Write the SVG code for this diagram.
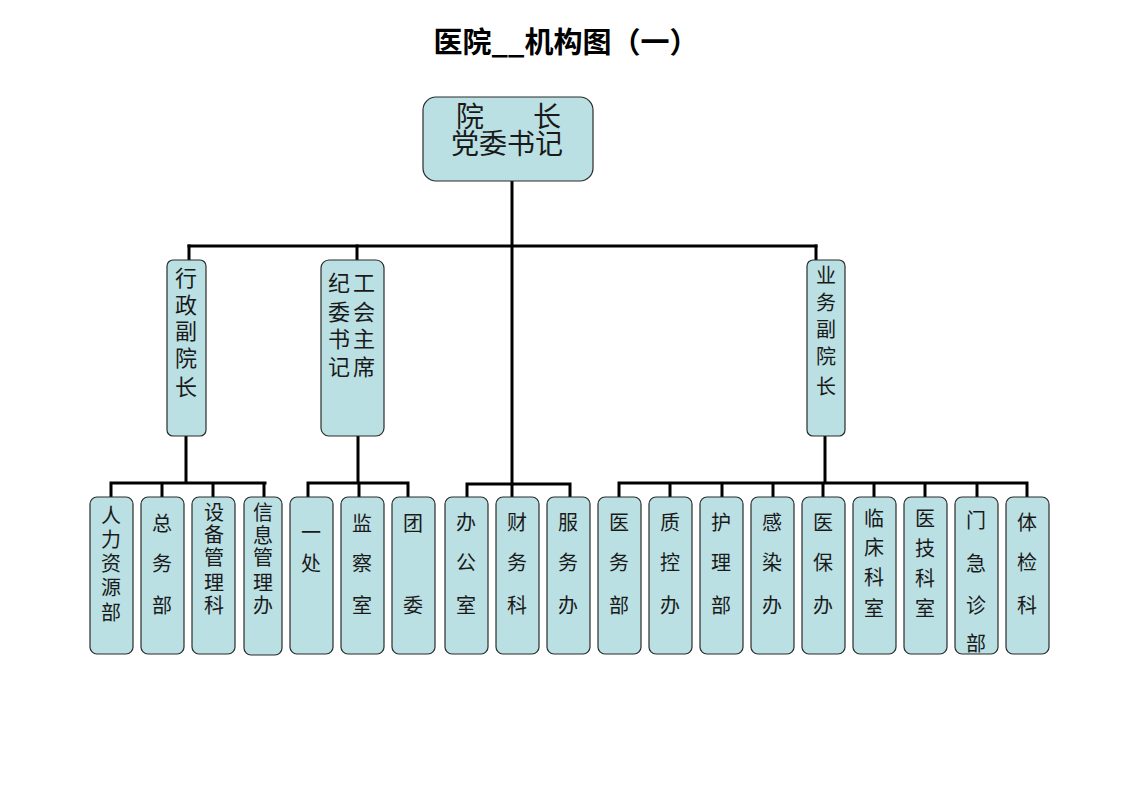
<svg xmlns="http://www.w3.org/2000/svg" width="1122" height="793" viewBox="0 0 1122 793">
<style>
.bg{fill:#ffffff}
.box{fill:#BBE0E3;stroke:#2b2b2b;stroke-width:1.2}
.ln{stroke:#000;stroke-width:3;fill:none;stroke-linecap:square}
.t{font-family:"Noto Sans CJK SC","Noto Sans CJK JP",sans-serif;fill:#1a1a1a;text-anchor:middle}
.s20{font-size:20px}
.s22{font-size:22px}
.s28{font-size:28px}
.title{font-family:"Noto Sans CJK SC",sans-serif;font-size:29px;font-weight:bold;fill:#000;text-anchor:middle}
</style>
<rect class="bg" x="0" y="0" width="1122" height="793"/>
<text class="title" x="566" y="53">医院__机构图（一）</text>

<g id="connectors">
  <path class="ln" d="M512 182 V484"/>
  <path class="ln" d="M189 246 H816"/>
  <path class="ln" d="M189 246 V260 M357 246 V260 M816 246 V260"/>
  <path class="ln" d="M186 437 V483 M111 483 H265 M111 483 V497 M162 483 V497 M213 483 V497 M264 483 V497"/>
  <path class="ln" d="M358 437 V483 M308 483 H408 M308 483 V497 M359 483 V497 M408 483 V497"/>
  <path class="ln" d="M467 484 H570 M467 484 V497 M512 484 V497 M570 484 V497"/>
  <path class="ln" d="M825 437 V483 M619 483 H1027 M619 483 V497 M670 483 V497 M722 483 V497 M773 483 V497 M823 483 V497 M874 483 V497 M925 483 V497 M977 483 V497 M1027 483 V497"/>
</g>

<g id="n-president">
  <rect class="box" x="423" y="97" width="170" height="84" rx="13"/>
  <text class="t s28" x="470" y="127">院</text>
  <text class="t s28" x="547" y="127">长</text>
  <text class="t s28" x="507" y="154">党委书记</text>
</g>

<g id="n-admin-vp">
  <rect class="box" x="167" y="260" width="39" height="176" rx="6"/>
  <text class="t s22"><tspan x="186" y="286">行</tspan><tspan x="186" y="313">政</tspan><tspan x="186" y="339">副</tspan><tspan x="186" y="366">院</tspan><tspan x="186" y="395">长</tspan></text>
</g>

<g id="n-union">
  <rect class="box" x="321" y="260" width="63" height="176" rx="8"/>
  <text class="t s22"><tspan x="339" y="291">纪</tspan><tspan x="339" y="320">委</tspan><tspan x="339" y="347">书</tspan><tspan x="339" y="375">记</tspan></text>
  <text class="t s22"><tspan x="364" y="291">工</tspan><tspan x="364" y="320">会</tspan><tspan x="364" y="347">主</tspan><tspan x="364" y="375">席</tspan></text>
</g>

<g id="n-biz-vp">
  <rect class="box" x="807" y="260" width="38" height="176" rx="6"/>
  <text class="t s20"><tspan x="826" y="283">业</tspan><tspan x="826" y="310">务</tspan><tspan x="826" y="337">副</tspan><tspan x="826" y="364">院</tspan><tspan x="826" y="394">长</tspan></text>
</g>

<g id="n-hr">
  <rect class="box" x="90" y="497" width="43" height="157" rx="7"/>
  <text class="t s20"><tspan x="111" y="523">人</tspan><tspan x="111" y="547">力</tspan><tspan x="111" y="571">资</tspan><tspan x="111" y="595">源</tspan><tspan x="111" y="620">部</tspan></text>
</g>
<g id="n-general">
  <rect class="box" x="141" y="497" width="43" height="157" rx="7"/>
  <text class="t s20"><tspan x="162" y="531">总</tspan><tspan x="162" y="571">务</tspan><tspan x="162" y="613">部</tspan></text>
</g>
<g id="n-equip">
  <rect class="box" x="192" y="497" width="43" height="157" rx="7"/>
  <text class="t s20"><tspan x="214" y="520">设</tspan><tspan x="214" y="542">备</tspan><tspan x="214" y="565">管</tspan><tspan x="214" y="590">理</tspan><tspan x="214" y="613">科</tspan></text>
</g>
<g id="n-info">
  <rect class="box" x="244" y="497" width="38" height="158" rx="7"/>
  <text class="t s20"><tspan x="263" y="520">信</tspan><tspan x="263" y="543">息</tspan><tspan x="263" y="565">管</tspan><tspan x="263" y="590">理</tspan><tspan x="263" y="613">办</tspan></text>
</g>
<g id="n-office1">
  <rect class="box" x="290" y="497" width="43" height="157" rx="7"/>
  <text class="t s20"><tspan x="311" y="540">一</tspan><tspan x="311" y="571">处</tspan></text>
</g>
<g id="n-supervise">
  <rect class="box" x="341" y="497" width="43" height="157" rx="7"/>
  <text class="t s20"><tspan x="362" y="531">监</tspan><tspan x="362" y="571">察</tspan><tspan x="362" y="613">室</tspan></text>
</g>
<g id="n-league">
  <rect class="box" x="392" y="497" width="43" height="157" rx="7"/>
  <text class="t s20"><tspan x="413" y="531">团</tspan><tspan x="413" y="613">委</tspan></text>
</g>
<g id="n-bangong">
  <rect class="box" x="445" y="497" width="43" height="157" rx="7"/>
  <text class="t s20"><tspan x="466" y="530">办</tspan><tspan x="466" y="570">公</tspan><tspan x="466" y="613">室</tspan></text>
</g>
<g id="n-finance">
  <rect class="box" x="496" y="497" width="43" height="157" rx="7"/>
  <text class="t s20"><tspan x="517" y="530">财</tspan><tspan x="517" y="570">务</tspan><tspan x="517" y="613">科</tspan></text>
</g>
<g id="n-service">
  <rect class="box" x="547" y="497" width="43" height="157" rx="7"/>
  <text class="t s20"><tspan x="568" y="530">服</tspan><tspan x="568" y="570">务</tspan><tspan x="568" y="613">办</tspan></text>
</g>
<g id="n-medical">
  <rect class="box" x="598" y="497" width="43" height="157" rx="7"/>
  <text class="t s20"><tspan x="619" y="530">医</tspan><tspan x="619" y="570">务</tspan><tspan x="619" y="613">部</tspan></text>
</g>
<g id="n-quality">
  <rect class="box" x="649" y="497" width="43" height="157" rx="7"/>
  <text class="t s20"><tspan x="670" y="530">质</tspan><tspan x="670" y="570">控</tspan><tspan x="670" y="613">办</tspan></text>
</g>
<g id="n-nursing">
  <rect class="box" x="700" y="497" width="43" height="157" rx="7"/>
  <text class="t s20"><tspan x="721" y="530">护</tspan><tspan x="721" y="570">理</tspan><tspan x="721" y="613">部</tspan></text>
</g>
<g id="n-infection">
  <rect class="box" x="751" y="497" width="43" height="157" rx="7"/>
  <text class="t s20"><tspan x="772" y="530">感</tspan><tspan x="772" y="570">染</tspan><tspan x="772" y="613">办</tspan></text>
</g>
<g id="n-insurance">
  <rect class="box" x="802" y="497" width="43" height="157" rx="7"/>
  <text class="t s20"><tspan x="823" y="530">医</tspan><tspan x="823" y="570">保</tspan><tspan x="823" y="613">办</tspan></text>
</g>
<g id="n-clinical">
  <rect class="box" x="853" y="497" width="43" height="157" rx="7"/>
  <text class="t s20"><tspan x="874" y="526">临</tspan><tspan x="874" y="555">床</tspan><tspan x="874" y="585">科</tspan><tspan x="874" y="616">室</tspan></text>
</g>
<g id="n-medtech">
  <rect class="box" x="904" y="497" width="43" height="157" rx="7"/>
  <text class="t s20"><tspan x="925" y="526">医</tspan><tspan x="925" y="556">技</tspan><tspan x="925" y="586">科</tspan><tspan x="925" y="616">室</tspan></text>
</g>
<g id="n-outpatient">
  <rect class="box" x="955" y="497" width="43" height="157" rx="7"/>
  <text class="t s20"><tspan x="976" y="528">门</tspan><tspan x="976" y="571">急</tspan><tspan x="976" y="613">诊</tspan><tspan x="976" y="651">部</tspan></text>
</g>
<g id="n-checkup">
  <rect class="box" x="1006" y="497" width="43" height="157" rx="7"/>
  <text class="t s20"><tspan x="1027" y="530">体</tspan><tspan x="1027" y="570">检</tspan><tspan x="1027" y="613">科</tspan></text>
</g>
</svg>
